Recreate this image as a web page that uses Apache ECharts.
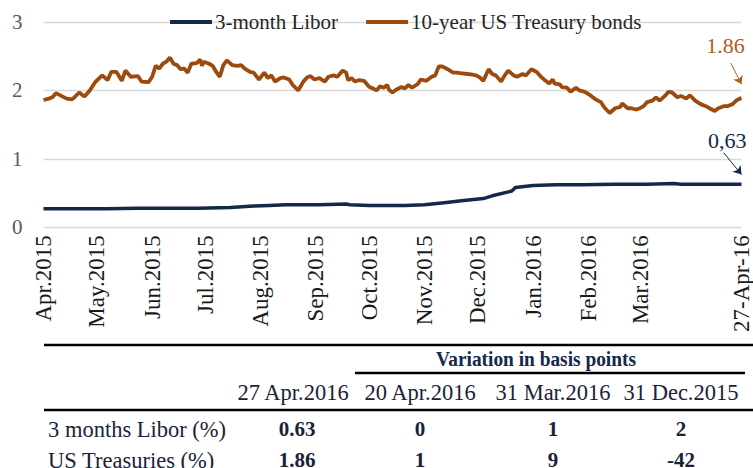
<!DOCTYPE html>
<html><head><meta charset="utf-8">
<script src="https://cdn.jsdelivr.net/npm/echarts@6/dist/echarts.min.js"></script>
<style>html,body{margin:0;padding:0;background:#fff}#c{width:753px;height:468px}</style>
</head><body><div id="c"></div>
<script>
// ---- data ----
const tsyDates = ['2015-04-01','2015-04-04','2015-04-06','2015-04-08','2015-04-11','2015-04-14','2015-04-17','2015-04-18','2015-04-21','2015-04-24','2015-04-27','2015-04-30',
'2015-05-04','2015-05-07','2015-05-09','2015-05-12','2015-05-15','2015-05-17','2015-05-20','2015-05-24','2015-05-26','2015-05-30',
'2015-06-01','2015-06-03','2015-06-05','2015-06-07','2015-06-09','2015-06-11','2015-06-13','2015-06-15','2015-06-17','2015-06-19','2015-06-21','2015-06-23','2015-06-26','2015-06-28','2015-06-29','2015-06-30',
'2015-07-03','2015-07-05','2015-07-07','2015-07-09','2015-07-11','2015-07-13','2015-07-16','2015-07-19','2015-07-21','2015-07-23','2015-07-26','2015-07-28','2015-07-31',
'2015-08-03','2015-08-05','2015-08-07','2015-08-09','2015-08-12','2015-08-14','2015-08-17','2015-08-19','2015-08-22','2015-08-25','2015-08-27','2015-08-29','2015-08-31',
'2015-09-03','2015-09-06','2015-09-08','2015-09-11','2015-09-13','2015-09-16','2015-09-18','2015-09-19','2015-09-21','2015-09-23','2015-09-25','2015-09-28',
'2015-10-01','2015-10-03','2015-10-05','2015-10-07','2015-10-09','2015-10-11','2015-10-12','2015-10-14','2015-10-16','2015-10-19','2015-10-21','2015-10-23','2015-10-25','2015-10-28','2015-10-30',
'2015-11-02','2015-11-05','2015-11-07','2015-11-09','2015-11-11','2015-11-14','2015-11-17','2015-11-19','2015-11-22','2015-11-25','2015-11-28','2015-11-30',
'2015-12-02','2015-12-04','2015-12-07','2015-12-09','2015-12-11','2015-12-14','2015-12-16','2015-12-18','2015-12-21','2015-12-23','2015-12-26','2015-12-28','2015-12-31',
'2016-01-03','2016-01-05','2016-01-08','2016-01-10','2016-01-12','2016-01-13','2016-01-16','2016-01-17','2016-01-20','2016-01-22','2016-01-25','2016-01-27','2016-01-30',
'2016-02-02','2016-02-05','2016-02-08','2016-02-10','2016-02-13','2016-02-16','2016-02-19','2016-02-20','2016-02-23','2016-02-25','2016-02-28',
'2016-03-01','2016-03-03','2016-03-05','2016-03-08','2016-03-10','2016-03-12','2016-03-15','2016-03-17','2016-03-19','2016-03-22','2016-03-24','2016-03-27','2016-03-29',
'2016-04-01','2016-04-04','2016-04-07','2016-04-09','2016-04-12','2016-04-14','2016-04-17','2016-04-19','2016-04-22','2016-04-24','2016-04-26','2016-04-27'];
const tsyValues = [1.86,1.88,1.90,1.96,1.92,1.88,1.87,1.89,1.97,1.91,2.00,2.12,
2.22,2.15,2.27,2.27,2.14,2.29,2.20,2.21,2.13,2.12,
2.20,2.36,2.32,2.39,2.42,2.48,2.39,2.37,2.31,2.32,2.26,2.39,2.40,2.45,2.36,2.42,
2.39,2.36,2.27,2.20,2.37,2.44,2.37,2.36,2.37,2.32,2.27,2.26,2.16,
2.26,2.18,2.22,2.13,2.18,2.19,2.16,2.08,2.00,2.13,2.19,2.21,2.16,
2.18,2.13,2.20,2.22,2.20,2.29,2.26,2.15,2.18,2.13,2.15,2.14,
2.05,2.03,2.00,2.06,2.04,2.08,2.01,1.97,2.01,2.05,2.03,2.08,2.04,2.09,2.16,
2.14,2.20,2.22,2.35,2.35,2.31,2.26,2.26,2.25,2.24,2.23,2.22,
2.19,2.14,2.31,2.24,2.22,2.13,2.22,2.29,2.22,2.20,2.24,2.22,2.31,
2.27,2.21,2.14,2.10,2.16,2.10,2.09,2.05,2.04,1.98,2.04,2.00,1.98,
1.93,1.87,1.83,1.75,1.67,1.74,1.76,1.81,1.74,1.74,1.72,
1.74,1.77,1.83,1.85,1.90,1.85,1.92,1.98,1.97,1.90,1.92,1.88,1.93,
1.85,1.80,1.77,1.74,1.70,1.74,1.77,1.77,1.80,1.85,1.88,1.89];

const liborDates = ['2015-04-01','2015-04-18','2015-05-06','2015-05-24','2015-06-12','2015-06-27','2015-07-15','2015-07-28','2015-08-06','2015-08-15',
'2015-09-03','2015-09-18','2015-09-20','2015-10-01','2015-10-21','2015-11-01','2015-11-12','2015-11-23','2015-12-04','2015-12-09','2015-12-20','2015-12-22',
'2016-01-01','2016-01-14','2016-01-28','2016-02-16','2016-03-05','2016-03-20','2016-03-24','2016-04-11','2016-04-27'];
const liborValues = [0.27,0.27,0.27,0.28,0.28,0.28,0.29,0.31,0.32,0.33,
0.33,0.34,0.33,0.32,0.32,0.33,0.36,0.39,0.42,0.46,0.53,0.58,
0.61,0.62,0.62,0.63,0.63,0.64,0.63,0.63,0.63];

const seriesNames = ['3-month Libor', '10-year US Treasury bonds'];
const firstDay = '2015-04-01', lastDay = '2016-04-27';
const xTickDates = ['2015-04-01','2015-05-01','2015-06-01','2015-07-01','2015-08-01','2015-09-01','2015-10-01','2015-11-01','2015-12-01','2016-01-01','2016-02-01','2016-03-01','2016-04-27'];
const xTickLabels = ['Apr.2015','May.2015','Jun.2015','Jul.2015','Aug.2015','Sep.2015','Oct.2015','Nov.2015','Dec.2015','Jan.2016','Feb.2016','Mar.2016','27-Apr-16'];
const yTicks = [0, 1, 2, 3];

// annotations: label position [date, value], arrow from/to
const tsyNote = { text: '1.86', at: ['2016-04-18', 2.66], from: ['2016-04-21', 2.40], to: ['2016-04-27', 2.09] };
const liborNote = { text: '0,63', at: ['2016-04-19', 1.27], from: ['2016-04-17', 1.09], to: ['2016-04-27', 0.77] };

// table
const tableTitle = 'Variation in basis points';
const tableHeaders = ['27 Apr.2016', '20 Apr.2016', '31 Mar.2016', '31 Dec.2015'];
const tableRowNames = ['3 months Libor (%)', 'US Treasuries (%)'];
const tableRows = [['0.63', '0', '1', '2'], ['1.86', '1', '9', '-42']];

// ---- axis categories: every calendar day ----
const pad = n => (n < 10 ? '0' : '') + n;
const days = [];
{
  const [y0, m0, d0] = firstDay.split('-').map(Number);
  const d = new Date(y0, m0 - 1, d0, 12);
  while (true) {
    const s = d.getFullYear() + '-' + pad(d.getMonth() + 1) + '-' + pad(d.getDate());
    days.push(s);
    if (s === lastDay) break;
    d.setDate(d.getDate() + 1);
  }
}

const NAVY = '#14284a', BROWN = '#9c4a0e', BROWN_T = '#b0601a';
const FONT = '"Liberation Serif", "DejaVu Serif", serif';
const chart = echarts.init(document.getElementById('c'), null, { renderer: 'svg' });

const colX = [293, 420, 553, 681];
const graphics = [];
const hl = (x1, y, x2, w) => graphics.push({ type: 'line', shape: { x1, y1: y, x2, y2: y }, style: { stroke: '#000', lineWidth: w } });
const tx = (text, x, y, opt) => graphics.push(Object.assign({ type: 'text', x, y, style: Object.assign({ text, fill: '#1a2238', font: '22.5px ' + FONT, align: 'center', verticalAlign: 'middle' }, opt.style || {}) }, opt.el || {}));
hl(44, 345, 753, 2.5);
tx(tableTitle, 536, 359, { style: { font: 'bold 22px ' + FONT, fill: '#14284a' }, el: { scaleX: 0.88 } });
hl(355, 373, 745, 2.5);
tableHeaders.forEach((h, i) => tx(h, colX[i], 392, {}));
hl(44, 410, 753, 2.5);
tableRowNames.forEach((r, j) => {
  tx(r, 48, 429 + j * 31, { style: { align: 'left' } });
  tableRows[j].forEach((v, i) => tx(v, colX[i] + (i === 0 ? 4 : 0), 429 + j * 31, { style: { font: 'bold 21px ' + FONT } }));
});

function note(n, color) {
  return {
    markPoint: { symbol: 'circle', symbolSize: 1, silent: true, itemStyle: { color: 'rgba(0,0,0,0)' },
      label: { show: true, position: 'inside', formatter: n.text, color, fontSize: 22, fontFamily: FONT },
      data: [{ coord: [n.at[0], n.at[1]] }] },
    markLine: { silent: true, symbol: ['none', 'arrow'], symbolSize: 8, label: { show: false },
      lineStyle: { color, width: 1, type: 'solid' },
      data: [[{ coord: [n.from[0], n.from[1]] }, { coord: [n.to[0], n.to[1]] }]] }
  };
}

chart.setOption({
  animation: false,
  grid: { left: 43.5, right: 1, top: 22, bottom: 240.7, containLabel: false },
  legend: { data: seriesNames, left: 170, top: 11, icon: 'rect', itemWidth: 42, itemHeight: 4, itemGap: 28, padding: 0,
    textStyle: { fontSize: 21, fontFamily: FONT, color: '#262626', lineHeight: 22, padding: [0, 0, 0, -2] } },
  xAxis: { type: 'category', data: days, boundaryGap: false,
    axisLine: { show: false }, axisTick: { show: false }, splitLine: { show: false },
    axisLabel: { rotate: 90, margin: 8, fontSize: 23, fontFamily: FONT, color: '#1a1a1a', hideOverlap: false,
      interval: (idx, v) => xTickDates.indexOf(v) >= 0,
      formatter: v => { const i = xTickDates.indexOf(v); return i >= 0 ? xTickLabels[i] : ''; } } },
  yAxis: { type: 'value', min: yTicks[0], max: yTicks[yTicks.length - 1], interval: 1,
    axisLine: { show: false }, axisTick: { show: false },
    splitLine: { lineStyle: { color: '#d9d9d9', width: 1.3 } },
    axisLabel: { margin: 21, fontSize: 21, fontFamily: FONT, color: '#595959' } },
  series: [
    Object.assign({ name: seriesNames[0], type: 'line', showSymbol: false, color: NAVY, lineStyle: { width: 3.5, color: NAVY },
      data: liborDates.map((d, i) => [d, liborValues[i]]) }, note(liborNote, NAVY)),
    Object.assign({ name: seriesNames[1], type: 'line', showSymbol: false, color: BROWN, lineStyle: { width: 3.8, color: BROWN },
      data: tsyDates.map((d, i) => [d, tsyValues[i]]) }, note(tsyNote, BROWN_T))
  ],
  graphic: graphics
});
</script></body></html>
